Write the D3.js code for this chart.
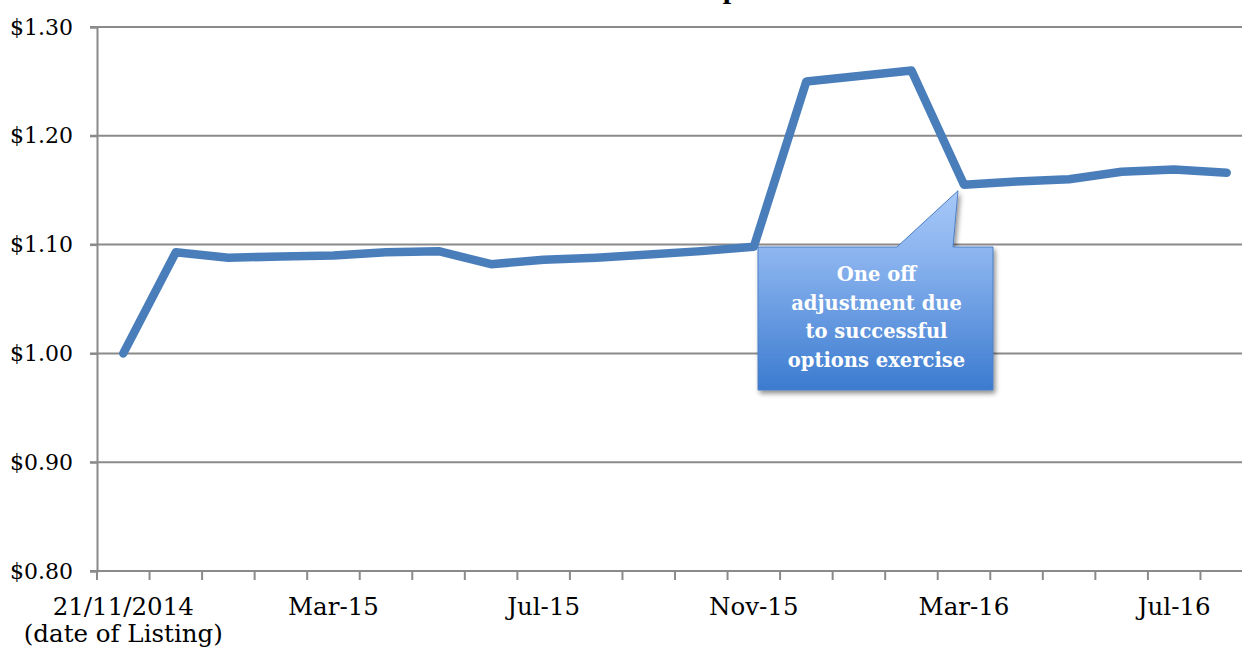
<!DOCTYPE html>
<html>
<head>
<meta charset="utf-8">
<script src="https://cdn.jsdelivr.net/npm/d3@7/dist/d3.min.js"></script>
<style>
  html, body { margin: 0; padding: 0; background: #fff; overflow: hidden; }
  svg { display: block; }
</style>
</head>
<body>
<svg id="chart" width="1242" height="647"></svg>
<script>
// ---- data ----
const months = ["Nov-14","Dec-14","Jan-15","Feb-15","Mar-15","Apr-15","May-15","Jun-15","Jul-15","Aug-15","Sep-15","Oct-15",
                "Nov-15","Dec-15","Jan-16","Feb-16","Mar-16","Apr-16","May-16","Jun-16","Jul-16","Aug-16"];
const values = [1.000,1.093,1.088,1.089,1.090,1.093,1.094,1.082,1.086,1.088,1.091,1.094,
                1.098,1.250,1.255,1.260,1.155,1.158,1.160,1.167,1.169,1.166];
const xTickLabels = {"Nov-14":["21/11/2014","(date of Listing)"],"Mar-15":["Mar-15"],"Jul-15":["Jul-15"],
                     "Nov-15":["Nov-15"],"Mar-16":["Mar-16"],"Jul-16":["Jul-16"]};
const yTicks = [0.80,0.90,1.00,1.10,1.20,1.30];
const titleText = "NTA per share";
const calloutLines = ["One off","adjustment due","to successful","options exercise"];
const calloutMonth = "Mar-16";

(function draw() {
const svg = d3.select("#chart");
const mL = 97, mR = 1253, mT = 27, mB = 571;
const x = d3.scaleBand().domain(months).range([mL, mR]);
const y = d3.scaleLinear().domain([0.80, 1.30]).range([mB, mT]);
const gridColor = "#8a8a8a";
const serif = "'DejaVu Serif', serif";

// title (mostly above the visible area, as in the reference)
const title = svg.append("text")
  .attr("y", -2)
  .attr("font-family", "'Liberation Serif', serif")
  .attr("font-weight", "bold")
  .attr("font-size", 30)
  .attr("fill", "#000")
  .text(titleText);
const pre = svg.append("text").attr("font-family","'Liberation Serif', serif").attr("font-weight","bold")
  .attr("font-size",30).text("NTA ");
const preW = pre.node().getComputedTextLength();
pre.remove();
title.attr("x", 717 - preW);

// gridlines
svg.append("g").selectAll("line").data(yTicks.filter(d => d > 0.8)).join("line")
  .attr("x1", mL - 7).attr("x2", 1242)
  .attr("y1", d => y(d)).attr("y2", d => y(d))
  .attr("stroke", gridColor).attr("stroke-width", 2);

// y axis
const yAxis = d3.axisLeft(y).tickValues(yTicks).tickSize(7).tickPadding(17)
  .tickFormat(d => "$" + d.toFixed(2));
const gy = svg.append("g").attr("transform", `translate(${mL},0)`).call(yAxis);
gy.select(".domain").attr("stroke", gridColor).attr("stroke-width", 2);
gy.selectAll(".tick line").attr("stroke", gridColor).attr("stroke-width", 2);
gy.selectAll(".tick text").attr("font-family", serif).attr("font-size", 22).attr("fill", "#000");

// x axis: ticks at band boundaries
const boundaries = months.map(m => x(m));
const gx = svg.append("g");
gx.append("line").attr("x1", mL - 7).attr("x2", 1242).attr("y1", mB).attr("y2", mB)
  .attr("stroke", gridColor).attr("stroke-width", 2);
gx.selectAll("line.tk").data(boundaries).join("line").attr("class","tk")
  .attr("x1", d => d).attr("x2", d => d).attr("y1", mB).attr("y2", mB + 9)
  .attr("stroke", gridColor).attr("stroke-width", 2);
const labs = gx.selectAll("text.lab").data(months.filter(m => xTickLabels[m])).join("text")
  .attr("class","lab")
  .attr("x", m => x(m) + x.bandwidth()/2)
  .attr("y", 615)
  .attr("text-anchor", "middle")
  .attr("font-family", serif).attr("font-size", 24.5).attr("fill", "#000");
labs.each(function(m) {
  const t = d3.select(this);
  xTickLabels[m].forEach((s, i) => {
    t.append("tspan").attr("x", x(m) + x.bandwidth()/2).attr("dy", i === 0 ? 0 : 27).text(s);
  });
});

// line
const line = d3.line().x((d, i) => x(months[i]) + x.bandwidth()/2).y(d => y(d));
svg.append("path").datum(values)
  .attr("d", line)
  .attr("fill", "none")
  .attr("stroke", "#4a7ebb")
  .attr("stroke-width", 8.5)
  .attr("stroke-linejoin", "round")
  .attr("stroke-linecap", "round");

// callout
const defs = svg.append("defs");
const grad = defs.append("linearGradient").attr("id","cg").attr("x1",0).attr("y1",0).attr("x2",0).attr("y2",1);
grad.append("stop").attr("offset","0%").attr("stop-color","#a7c8f8");
grad.append("stop").attr("offset","35%").attr("stop-color","#88b2ee");
grad.append("stop").attr("offset","100%").attr("stop-color","#3c7bcf");
const flt = defs.append("filter").attr("id","sh").attr("x","-10%").attr("y","-10%").attr("width","130%").attr("height","130%");
flt.append("feGaussianBlur").attr("in","SourceAlpha").attr("stdDeviation",2.5);
flt.append("feOffset").attr("dx",2).attr("dy",3).attr("result","ob");
flt.append("feComponentTransfer").append("feFuncA").attr("type","linear").attr("slope",0.45);
const fm = flt.append("feMerge");
fm.append("feMergeNode");
fm.append("feMergeNode").attr("in","SourceGraphic");

const tipX = x(calloutMonth) + x.bandwidth()/2 - 6, tipY = y(values[months.indexOf(calloutMonth)]) + 6;
const bx0 = 758, bx1 = 993, by0 = 247, by1 = 390;
const pts = [[bx0,by0],[897,by0],[tipX,tipY],[953,by0],[bx1,by0],[bx1,by1],[bx0,by1]];
svg.append("path")
  .attr("d", "M" + pts.map(p => p.join(",")).join("L") + "Z")
  .attr("fill","url(#cg)")
  .attr("stroke","#4c7fc4").attr("stroke-width",1)
  .attr("filter","url(#sh)");
svg.append("g").selectAll("text").data(calloutLines).join("text")
  .attr("x", (bx0 + bx1)/2 + 1)
  .attr("y", (d, i) => 281 + i * 28.5)
  .attr("text-anchor","middle")
  .attr("font-family","'DejaVu Serif', serif")
  .attr("font-weight","bold")
  .attr("font-size",19.5)
  .attr("fill","#fff")
  .text(d => d);
})();
</script>
</body>
</html>
